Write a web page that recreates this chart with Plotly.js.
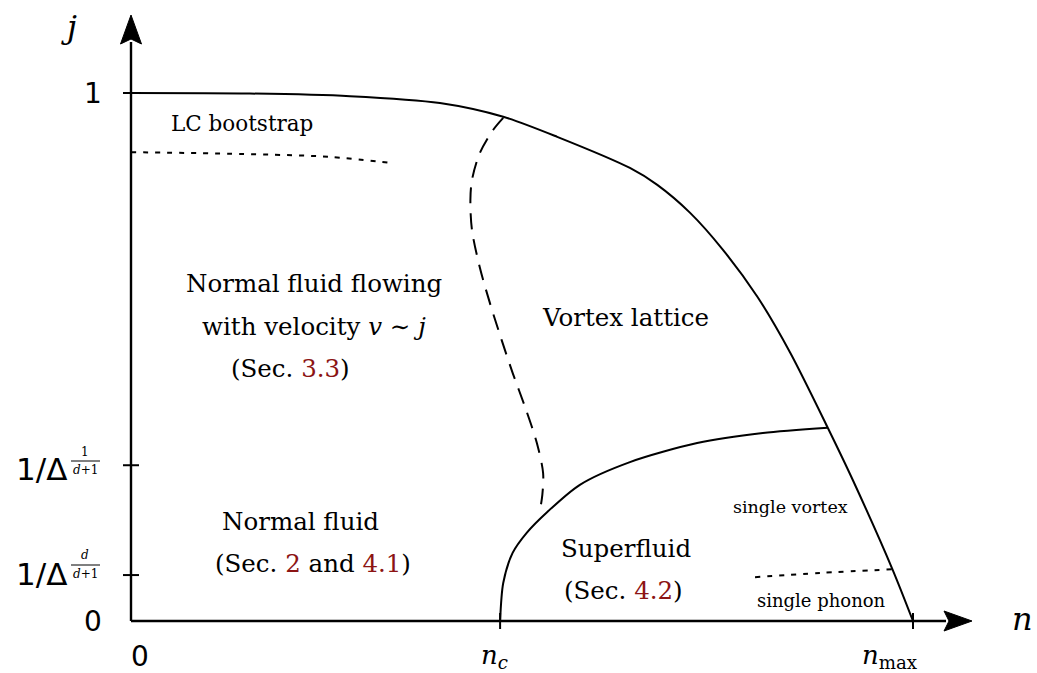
<!DOCTYPE html>
<html><head><meta charset="utf-8">
<script src="https://cdn.plot.ly/plotly-3.0.1.min.js"></script>
<style>html,body{margin:0;padding:0;background:#fff}</style>
</head><body><div id="chart" style="width:1037px;height:673px"></div>
<script>
// ---- Data (x = n / n_max, y = j) ----
const nc = 0.472;          // n_c
const nmax = 1.0;          // n_max
const jTop = 1.0;          // j = 1
const jTickHigh = 0.295;   // 1/Δ^{1/(d+1)}
const jTickLow = 0.087;    // 1/Δ^{d/(d+1)}

const outerN = [0, 0.152, 0.280, 0.395, 0.476, 0.545, 0.638, 0.673, 0.715, 0.757, 0.801, 0.843, 0.891, 0.923, 0.974, 1.0];
const outerJ = [1.0, 0.999, 0.994, 0.981, 0.955, 0.917, 0.858, 0.826, 0.773, 0.703, 0.614, 0.508, 0.366, 0.267, 0.097, 0.0];

const superN = [0.472, 0.476, 0.488, 0.506, 0.532, 0.574, 0.638, 0.724, 0.808, 0.891];
const superJ = [0.0, 0.072, 0.129, 0.167, 0.206, 0.258, 0.301, 0.337, 0.356, 0.366];

const dashN = [0.476, 0.463, 0.446, 0.436, 0.434, 0.436, 0.446, 0.459, 0.474, 0.488, 0.504, 0.519, 0.527, 0.526, 0.523];
const dashJ = [0.953, 0.930, 0.886, 0.835, 0.797, 0.741, 0.670, 0.602, 0.532, 0.470, 0.405, 0.337, 0.280, 0.239, 0.210];

const lcN = [0, 0.156, 0.254, 0.335];
const lcJ = [0.888, 0.884, 0.879, 0.867];

const phN = [0.798, 0.881, 0.974];
const phJ = [0.083, 0.091, 0.098];

// ---- layout helpers (pixel -> data for text placement) ----
const X0 = 131, Y0 = 621, SX = 782, SY = 528;
const X = px => (px - X0) / SX;
const Y = py => (Y0 - py) / SY;

const xAxisEnd = X(946), yAxisEnd = Y(42);
const xTip = X(972), yTip = Y(15);

const black = '#000';
const red = '#8c1414';
const serif = 'DejaVu Serif';
const sans = 'DejaVu Sans';

const lineTrace = (x, y, opts) => Object.assign({
  type: 'scatter', mode: 'lines', x, y, hoverinfo: 'skip', showlegend: false,
  line: {color: black, width: 2}
}, opts || {});

const hw = 10 / SY, hwx = 10.5 / SX;
const traces = [
  lineTrace([0, xAxisEnd], [0, 0], {line: {color: black, width: 2.4}}),
  lineTrace([0, 0], [0, yAxisEnd], {line: {color: black, width: 2.4}}),
  // arrow heads
  {type: 'scatter', mode: 'lines', hoverinfo: 'skip', showlegend: false, fill: 'toself', fillcolor: black,
   x: [xTip, X(944), X(949), X(944), xTip], y: [0, hw, 0, -hw, 0], line: {color: black, width: 1}},
  {type: 'scatter', mode: 'lines', hoverinfo: 'skip', showlegend: false, fill: 'toself', fillcolor: black,
   x: [0, -hwx, 0, hwx, 0], y: [yTip, Y(44), Y(39), Y(44), yTip], line: {color: black, width: 1}},
  lineTrace(outerN, outerJ, {line: {color: black, width: 2, shape: 'spline', smoothing: 0.8}}),
  lineTrace(superN, superJ, {line: {color: black, width: 2, shape: 'spline', smoothing: 0.8}}),
  lineTrace(dashN, dashJ, {line: {color: black, width: 2, shape: 'spline', smoothing: 0.9, dash: '16px,10px'}}),
  lineTrace(lcN, lcJ, {line: {color: black, width: 2, shape: 'spline', dash: '5px,7px'}}),
  lineTrace(phN, phJ, {line: {color: black, width: 2, shape: 'spline', dash: '5px,7px'}})
];

// ticks
const shapes = [];
[jTop, jTickHigh, jTickLow].forEach(v => shapes.push({type: 'line', xref: 'x', yref: 'y',
  x0: X(123), x1: X(139), y0: v, y1: v, line: {color: black, width: 2}}));
[nc, nmax].forEach(v => shapes.push({type: 'line', xref: 'x', yref: 'y',
  x0: v, x1: v, y0: Y(613), y1: Y(629), line: {color: black, width: 2}}));
// fraction bars for exponent labels
shapes.push({type: 'line', xref: 'x', yref: 'y', x0: X(71), x1: X(100), y0: Y(461), y1: Y(461), line: {color: black, width: 1}});
shapes.push({type: 'line', xref: 'x', yref: 'y', x0: X(71), x1: X(100), y0: Y(565), y1: Y(565), line: {color: black, width: 1}});

const ann = (text, px, py, size, family, extra) => Object.assign({
  text, x: X(px), y: Y(py), xref: 'x', yref: 'y', showarrow: false,
  font: {family, size, color: black}, xanchor: 'center', yanchor: 'middle'
}, extra || {});

const annotations = [
  // tick labels
  ann('1', 104, 93, 28, sans, {xanchor: 'right'}),
  ann('0', 104, 621, 28, sans, {xanchor: 'right'}),
  ann('0', 140, 656, 28, sans),
  ann('<i>n</i><sub><i>c</i></sub>', 494, 656, 26, serif),
  ann('<i>n</i><sub>max</sub>', 890, 656, 26, serif),
  ann('1/Δ', 69, 469, 31, sans, {xanchor: 'right'}),
  ann('1', 85, 452, 12, serif),
  ann('<i>d</i>+1', 85, 470, 12, serif),
  ann('1/Δ', 69, 574, 31, sans, {xanchor: 'right'}),
  ann('<i>d</i>', 85, 555, 12, serif),
  ann('<i>d</i>+1', 85, 574, 12, serif),
  // axis labels
  ann('<i>n</i>', 1022, 619, 32, serif),
  ann('<i>j</i>', 69, 27, 32, serif),
  // region labels
  ann('LC bootstrap', 242, 123, 21.5, serif),
  ann('Normal fluid flowing', 314, 283, 24.5, serif),
  ann('with velocity <i>v</i> ∼ <i>j</i>', 314, 326, 24.5, serif),
  ann('(Sec. <span style="color:' + red + '">3.3</span>)', 290, 368, 24.5, serif),
  ann('Vortex lattice', 625, 317, 24.5, serif),
  ann('Normal fluid', 300, 521, 24.5, serif),
  ann('(Sec. <span style="color:' + red + '">2</span> and <span style="color:' + red + '">4.1</span>)', 313, 563, 24.5, serif),
  ann('Superfluid', 626, 548, 24.5, serif),
  ann('(Sec. <span style="color:' + red + '">4.2</span>)', 623, 590, 24.5, serif),
  ann('single vortex', 790, 507, 17.5, serif),
  ann('single phonon', 821, 600, 18, serif)
];

const layout = {
  width: 1037, height: 673,
  margin: {l: 0, r: 0, t: 0, b: 0},
  paper_bgcolor: '#fff', plot_bgcolor: '#fff',
  xaxis: {range: [X(0), X(1037)], visible: false, fixedrange: true},
  yaxis: {range: [Y(673), Y(0)], visible: false, fixedrange: true},
  shapes, annotations, showlegend: false
};

Plotly.newPlot('chart', traces, layout, {displayModeBar: false, staticPlot: true});
</script></body></html>
